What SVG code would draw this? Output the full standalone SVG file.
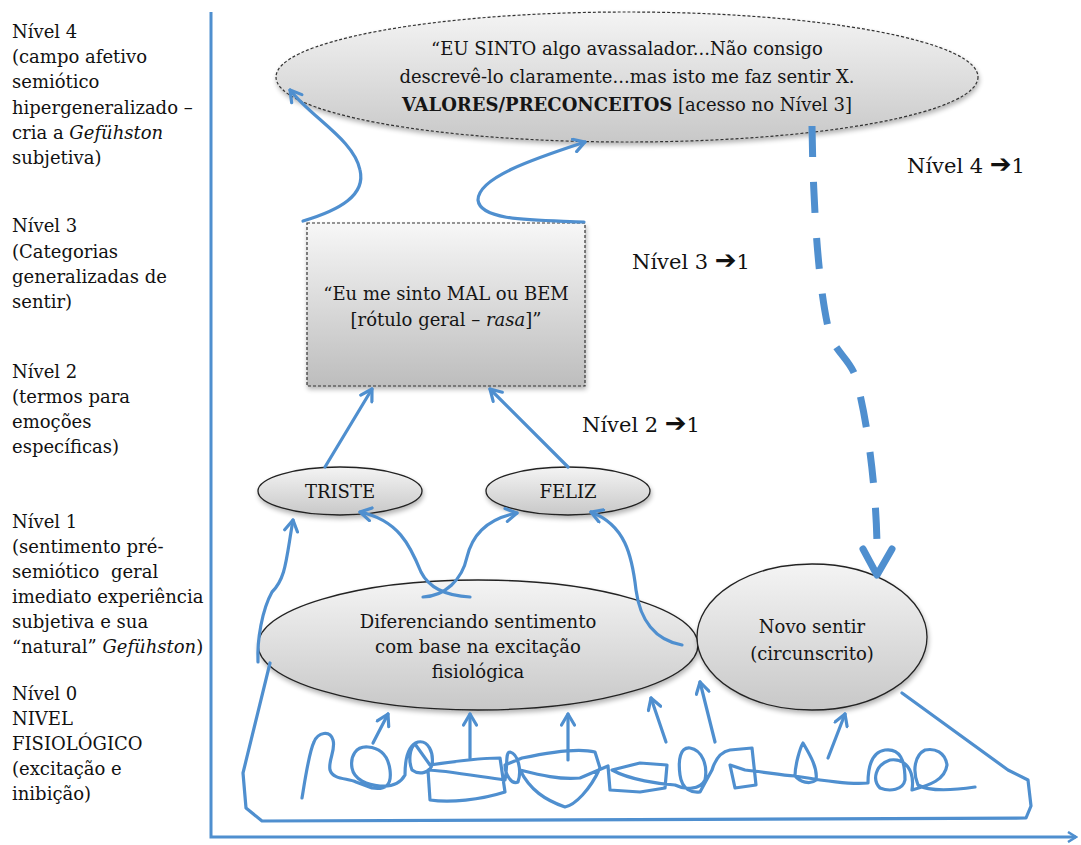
<svg xmlns="http://www.w3.org/2000/svg" width="1081" height="845" viewBox="0 0 1081 845">
<defs>
<style>
.lbl{font-family:"DejaVu Serif","Liberation Serif",serif;font-size:18px;fill:#111}
.big{font-family:"DejaVu Serif","Liberation Serif",serif;font-size:21px;fill:#111}
.arr{font-family:"DejaVu Sans",sans-serif;font-weight:bold;font-size:26px}
.nt{font-family:"DejaVu Serif","Liberation Serif",serif;font-size:18px;fill:#151515;text-anchor:middle}
.node{stroke:#222;stroke-width:1.3}
.dash{stroke:#333;stroke-width:1.2;stroke-dasharray:3 2}
.ln{fill:none;stroke:#4f8fcf;stroke-width:3.2;stroke-linecap:round;stroke-linejoin:round}
.axis{fill:none;stroke:#4f8fcf;stroke-width:3}
</style>
<linearGradient id="g1" x1="0" y1="0" x2="0" y2="1">
<stop offset="0" stop-color="#f4f4f4"/><stop offset="1" stop-color="#c8c8c8"/>
</linearGradient>
<linearGradient id="g2" x1="0" y1="0" x2="0" y2="1">
<stop offset="0" stop-color="#f7f7f7"/><stop offset="1" stop-color="#bdbdbd"/>
</linearGradient>
<filter id="sh" x="-10%" y="-10%" width="125%" height="140%">
<feGaussianBlur in="SourceAlpha" stdDeviation="2.5"/>
<feOffset dx="1" dy="3"/>
<feComponentTransfer><feFuncA type="linear" slope="0.3"/></feComponentTransfer>
<feMerge><feMergeNode/><feMergeNode in="SourceGraphic"/></feMerge>
</filter>
<marker id="ah" viewBox="-13 -8 15 16" refX="0" refY="0" markerWidth="15" markerHeight="16" markerUnits="userSpaceOnUse" orient="auto">
<path d="M-11,-6.5 L0,0 L-11,6.5" fill="none" stroke="#4f8fcf" stroke-width="3.2" stroke-linecap="round" stroke-linejoin="round"/>
</marker>
<marker id="axh" viewBox="-10 -6 12 12" refX="0" refY="0" markerWidth="12" markerHeight="12" markerUnits="userSpaceOnUse" orient="auto">
<path d="M-8,-5 L0,0 L-8,5" fill="none" stroke="#4f8fcf" stroke-width="2.5"/>
</marker>
</defs>
<rect width="1081" height="845" fill="#ffffff"/>

<g id="axes">
<path class="axis" d="M211,12 L211,837 L1076,837" marker-end="url(#axh)"/>
</g>

<g id="level-labels">
<text class="lbl" x="12" y="38">Nível 4</text>
<text class="lbl" x="12" y="63">(campo afetivo</text>
<text class="lbl" x="12" y="88">semiótico</text>
<text class="lbl" x="12" y="114">hipergeneralizado –</text>
<text class="lbl" x="12" y="139">cria a <tspan font-style="italic">Gefühston</tspan></text>
<text class="lbl" x="12" y="164">subjetiva)</text>

<text class="lbl" x="12" y="232">Nível 3</text>
<text class="lbl" x="12" y="258">(Categorias</text>
<text class="lbl" x="12" y="283">generalizadas de</text>
<text class="lbl" x="12" y="308">sentir)</text>

<text class="lbl" x="12" y="378">Nível 2</text>
<text class="lbl" x="12" y="403">(termos para</text>
<text class="lbl" x="12" y="428">emoções</text>
<text class="lbl" x="12" y="453">específicas)</text>

<text class="lbl" x="12" y="528">Nível 1</text>
<text class="lbl" x="12" y="553">(sentimento pré-</text>
<text class="lbl" x="12" y="578">semiótico&#160; geral</text>
<text class="lbl" x="12" y="603">imediato experiência</text>
<text class="lbl" x="12" y="628">subjetiva e sua</text>
<text class="lbl" x="12" y="653">“natural” <tspan font-style="italic">Gefühston</tspan>)</text>

<text class="lbl" x="12" y="700">Nível 0</text>
<text class="lbl" x="12" y="725">NIVEL</text>
<text class="lbl" x="12" y="750">FISIOLÓGICO</text>
<text class="lbl" x="12" y="775">(excitação e</text>
<text class="lbl" x="12" y="800">inibição)</text>
</g>

<g id="transition-labels">
<text class="big" x="907" y="173">Nível 4 <tspan class="arr">➔</tspan>1</text>
<text class="big" x="632" y="269">Nível 3 <tspan class="arr">➔</tspan>1</text>
<text class="big" x="582" y="432">Nível 2 <tspan class="arr">➔</tspan>1</text>
</g>

<g id="node-nivel4">
<ellipse cx="627" cy="77" rx="351" ry="65" fill="url(#g1)" class="dash" filter="url(#sh)"/>
<text class="nt" x="627" y="55">“EU SINTO algo avassalador...Não consigo</text>
<text class="nt" x="627" y="83">descrevê-lo claramente...mas isto me faz sentir X.</text>
<text class="nt" x="627" y="111"><tspan font-weight="bold">VALORES/PRECONCEITOS</tspan> [acesso no Nível 3]</text>
</g>

<g id="node-nivel3">
<rect x="307" y="223" width="278" height="163" fill="url(#g2)" class="dash" filter="url(#sh)"/>
<text class="nt" x="446" y="300">“Eu me sinto MAL ou BEM</text>
<text class="nt" x="446" y="326">[rótulo geral – <tspan font-style="italic">rasa</tspan>]”</text>
</g>

<g id="node-triste">
<ellipse cx="340" cy="491" rx="82" ry="24" fill="url(#g1)" class="node" filter="url(#sh)"/>
<text class="nt" x="340" y="498">TRISTE</text>
</g>

<g id="node-feliz">
<ellipse cx="568" cy="491" rx="82" ry="24" fill="url(#g1)" class="node" filter="url(#sh)"/>
<text class="nt" x="568" y="498">FELIZ</text>
</g>

<g id="node-diferenciando">
<ellipse cx="478" cy="645" rx="220" ry="65" fill="url(#g1)" class="node" filter="url(#sh)"/>
<text class="nt" x="478" y="628">Diferenciando sentimento</text>
<text class="nt" x="478" y="653">com base na excitação</text>
<text class="nt" x="478" y="678">fisiológica</text>
</g>

<g id="node-novo">
<ellipse cx="812" cy="637" rx="115" ry="73" fill="url(#g1)" class="node" filter="url(#sh)"/>
<text class="nt" x="812" y="633">Novo sentir</text>
<text class="nt" x="812" y="660">(circunscrito)</text>
</g>

<g id="connectors">
<path class="ln" d="M303,221 C340,210 366,195 360,170 C354,140 312,118 290,90" marker-end="url(#ah)"/>
<path class="ln" d="M584,222 C540,220 480,222 478,200 C478,178 530,160 585,142" marker-end="url(#ah)"/>
<path class="ln" d="M325,467 L372,389" marker-end="url(#ah)"/>
<path class="ln" d="M568,467 L490,389" marker-end="url(#ah)"/>
<path class="ln" d="M470,597 C450,596 430,590 421,572 C410,545 398,520 360,512" marker-end="url(#ah)"/>
<path class="ln" d="M423,597 C445,596 462,580 467,557 C473,532 490,518 517,513" marker-end="url(#ah)"/>
<path class="ln" d="M682,645 C655,640 640,620 636,590 C632,555 625,525 591,512" marker-end="url(#ah)"/>
<path class="ln" d="M258,662 C257,640 262,610 272,592 C286,578 286,560 293,520" marker-end="url(#ah)"/>
<path class="ln" d="M270,663 L243,773 L246,808 L262,821 L1026,818 L1031,806 L1028,780 L1008,770 L902,693"/>
<path fill="none" stroke="#4f8fcf" stroke-width="7" stroke-dasharray="31 25" d="M812,126 C813,200 818,290 830,335 C836,352 848,358 855,375 C868,420 876,490 877,544"/>
<path fill="none" stroke="#4f8fcf" stroke-width="7" stroke-linecap="round" stroke-linejoin="round" d="M863,549 L877,575 L892,549"/>
<path class="ln" d="M373,743 L388,714" marker-end="url(#ah)"/>
<path class="ln" d="M470,758 L470,714" marker-end="url(#ah)"/>
<path class="ln" d="M568,760 L568,714" marker-end="url(#ah)"/>
<path class="ln" d="M666,742 L651,698" marker-end="url(#ah)"/>
<path class="ln" d="M715,742 L700,682" marker-end="url(#ah)"/>
<path class="ln" d="M828,758 L845,714" marker-end="url(#ah)"/>
<path class="ln" d="M302,798 C305,780 309,752 314,742 C318,732 330,730 333,740 C336,750 328,760 330,770 C333,780 348,778 356,782 L372,788 C385,790 392,786 390,770 C388,755 380,748 368,747 C356,746 350,756 352,768 C354,780 368,785 380,786 C392,787 400,784 405,775 C405,760 408,745 418,742 C428,740 434,752 432,765 C430,772 420,776 412,770 C408,760 410,748 415,744 L430,765 C450,762 480,758 500,758 L505,792 C480,800 450,803 430,800 L428,770 C440,770 470,775 505,780 C508,765 505,752 510,752 C518,754 522,770 518,782 C512,785 505,775 505,765 L522,758 C550,752 580,748 595,752 L600,768 C590,790 575,805 565,807 C545,800 530,790 520,770 C540,775 560,780 580,778 L608,766 L610,790 L640,792 L665,788 L667,765 L640,763 L612,770 C630,780 660,784 675,785 C685,790 700,790 705,780 C708,765 702,750 690,748 C680,747 678,760 680,775 C682,790 692,793 700,792 L712,770 C715,760 720,752 730,750 L752,748 L756,785 L735,788 L730,765 L745,770 C765,772 780,775 795,776 C795,765 800,748 803,743 C810,755 818,768 816,780 C810,785 800,782 795,776 C820,780 850,785 868,783 C868,765 872,752 885,750 C900,748 905,760 905,780 C903,790 890,792 880,788 C872,780 875,765 890,760 C905,758 915,770 912,790 C930,785 945,780 947,765 C945,752 935,748 925,750 C915,755 912,770 918,785 C930,792 955,790 975,787"/>
</g>
</svg>
